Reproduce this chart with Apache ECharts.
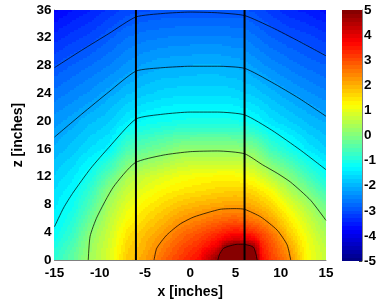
<!DOCTYPE html>
<html><head><meta charset="utf-8">
<style>html,body{margin:0;padding:0;background:#fff}#c{width:387px;height:301px}</style>
<script src="https://cdn.jsdelivr.net/npm/echarts@6/dist/echarts.min.js"></script>
</head><body><div id="c"></div>
<script>
var xSamples=[-15,-13,-11,-9,-7,-5,-3,-1,1,3,4,5,6,7,8,9,11,13,15];
var zSamples=[0,1,2,3,4,6,8,10,12,16,20,24,28,32,36];
// one row per x sample, values at zSamples
var fieldByX=[
[-0.8,-0.9,-1.0,-1.15,-1.25,-1.35,-1.45,-1.55,-1.7,-2.0,-2.25,-2.6,-2.95,-3.35,-3.8],
[-0.35,-0.4,-0.5,-0.65,-0.75,-0.95,-1.15,-1.3,-1.45,-1.8,-2.1,-2.45,-2.8,-3.2,-3.6],
[0.35,0.3,0.25,0.2,0.1,-0.2,-0.5,-0.75,-1.05,-1.55,-1.9,-2.3,-2.65,-3.05,-3.45],
[0.85,0.85,0.8,0.75,0.7,0.55,0.35,0.1,-0.35,-1.35,-1.75,-2.1,-2.5,-2.85,-3.25],
[1.75,1.7,1.65,1.55,1.45,1.2,0.95,0.7,0.4,-0.55,-1.4,-1.9,-2.3,-2.65,-3.05],
[2.15,2.1,2.0,1.95,1.85,1.6,1.35,1.05,0.75,-0.3,-1.2,-1.75,-2.15,-2.55,-3.0],
[2.75,2.6,2.5,2.35,2.2,1.9,1.6,1.3,0.95,-0.1,-1.1,-1.65,-2.05,-2.5,-2.95],
[3.25,3.1,3.0,2.8,2.65,2.25,1.85,1.45,1.15,0.15,-1.05,-1.6,-2.05,-2.45,-2.95],
[3.7,3.55,3.35,3.15,2.95,2.45,2.0,1.55,1.25,0.15,-1.0,-1.6,-2.0,-2.45,-2.95],
[4.9,4.5,3.95,3.6,3.3,2.65,2.1,1.65,1.3,0.15,-1.0,-1.6,-2.0,-2.45,-2.95],
[5.5,5.4,4.95,3.95,3.5,2.75,2.15,1.7,1.3,0.15,-1.0,-1.6,-2.05,-2.45,-2.95],
[5.6,5.5,5.2,4.2,3.65,2.8,2.2,1.7,1.3,0.15,-1.05,-1.65,-2.05,-2.5,-2.95],
[5.6,5.45,5.15,4.1,3.55,2.7,2.15,1.7,1.2,0.1,-1.1,-1.7,-2.1,-2.5,-2.95],
[5.5,5.15,4.85,3.9,3.35,2.55,2.05,1.6,1.1,0.0,-1.2,-1.75,-2.2,-2.6,-3.0],
[3.7,3.6,3.45,3.25,3.0,2.35,1.85,1.4,0.85,-0.3,-1.35,-1.85,-2.3,-2.7,-3.1],
[3.2,3.1,3.0,2.85,2.65,2.1,1.65,1.2,0.55,-0.65,-1.5,-1.95,-2.4,-2.8,-3.2],
[2.46,2.3,2.15,1.95,1.75,1.4,1.0,0.5,0.05,-1.05,-1.7,-2.15,-2.55,-2.95,-3.4],
[1.2,1.2,1.15,1.1,1.0,0.75,0.4,-0.05,-0.55,-1.45,-1.9,-2.3,-2.7,-3.05,-3.5],
[0.7,0.65,0.6,0.5,0.4,0.15,-0.2,-0.65,-1.1,-1.7,-2.05,-2.45,-2.8,-3.2,-3.65]
];
var contour1=[[-15,27.7],[-12,30.2],[-9,32.6],[-6,35],[-3,35.5],[0,35.7],[3,35.6],[6,35.2],[9,33.5],[12,31.5],[15,29.4]];
var contour2=[[-15,17.7],[-12,21],[-9,24.2],[-6,27.2],[-3,27.7],[0,27.9],[3,27.9],[6,27.6],[9,25.6],[12,23.3],[15,20.7]];
var contour3=[[-15,4.8],[-14,7.5],[-13,9.6],[-11,13.2],[-9,16.2],[-6,20.3],[-3,21],[0,21.3],[3,21.3],[6,20.9],[9,18.7],[12.2,15.8],[15,13]];
var contour4=[[-11.27,0],[-11.07,3.4],[-10.3,6.2],[-8.5,10.5],[-6.1,14],[-3,15.1],[0,15.6],[3,15.7],[6,15.3],[8,13.7],[9.6,12.5],[11.1,11.2],[13.3,8.6],[15,5.7]];
var contour5=[[-4,0],[-3.7,1.7],[-2.6,3.6],[-1.1,5.2],[0.4,6.2],[3.3,7.3],[5.1,7.4],[6,7.3],[7.8,6.2],[9.6,4.3],[10.7,2.2],[11.1,0]];
var contour6=[[3.06,0],[3.2,0.7],[3.7,1.7],[5.2,2.26],[5.9,2.26],[7,1.8],[7.4,0]];
var contours=[contour1,contour2,contour3,contour4,contour5,contour6];
var walls=[[[-6,0],[-6,36]],[[6,0],[6,36]]];

function jet(v){
  var t=Math.max(0,Math.min(1,(v+5)/10));
  t=(Math.min(63,Math.floor(t*64))+0.5)/64;
  function c(a){return Math.round(255*Math.max(0,Math.min(1,a)));}
  return 'rgb('+c(1.5-Math.abs(4*t-3))+','+c(1.5-Math.abs(4*t-2))+','+c(1.5-Math.abs(4*t-1))+')';
}
var cells=[];
for(var i=0;i<xSamples.length-1;i++)for(var j=0;j<zSamples.length-1;j++)cells.push([i,j]);
var levels=[];
for(var k=0;k<64;k++)levels.push([-5+k*10/64,-5+(k+1)*10/64]);

var series=[{
  type:'custom',xAxisIndex:0,yAxisIndex:0,silent:true,animation:false,progressive:0,z:1,clip:true,
  data:cells,
  renderItem:function(p,api){
    var i=api.value(0),j=api.value(1);
    var a=api.coord([xSamples[i],zSamples[j]]),b=api.coord([xSamples[i+1],zSamples[j+1]]);
    var w=b[0]-a[0],h=a[1]-b[1],nx=Math.ceil(w/2),ny=Math.ceil(h/2),kids=[];
    var f00=fieldByX[i][j],f10=fieldByX[i+1][j],f01=fieldByX[i][j+1],f11=fieldByX[i+1][j+1];
    for(var m=0;m<nx;m++)for(var n=0;n<ny;n++){
      var u=(m+0.5)/nx,v=(n+0.5)/ny;
      var val=f00*(1-u)*(1-v)+f10*u*(1-v)+f01*(1-u)*v+f11*u*v;
      var x0=Math.floor(a[0]+w*m/nx),x1=Math.ceil(a[0]+w*(m+1)/nx);
      var y1=Math.ceil(a[1]-h*n/ny),y0=Math.floor(a[1]-h*(n+1)/ny);
      kids.push({type:'rect',shape:{x:x0,y:y0,width:x1-x0,height:y1-y0},style:{fill:jet(val)}});
    }
    return {type:'group',children:kids};
  }
},{
  type:'custom',xAxisIndex:1,yAxisIndex:1,silent:true,animation:false,progressive:0,z:1,
  data:levels,
  renderItem:function(p,api){
    var a=api.coord([0,api.value(0)]),b=api.coord([1,api.value(1)]);
    return {type:'rect',shape:{x:a[0],y:Math.floor(b[1]),width:b[0]-a[0],height:Math.ceil(a[1])-Math.floor(b[1])},style:{fill:jet((api.value(0)+api.value(1))/2)}};
  }
}];
contours.forEach(function(c){
  series.push({type:'line',xAxisIndex:0,yAxisIndex:0,data:c,symbol:'none',smooth:0.2,silent:true,animation:false,z:3,
    lineStyle:{color:'#000',width:0.9,opacity:0.8}});
});
walls.forEach(function(c){
  series.push({type:'line',xAxisIndex:0,yAxisIndex:0,data:c,symbol:'none',silent:true,animation:false,z:4,
    lineStyle:{color:'#000',width:2}});
});
var tickFont={color:'#000',fontFamily:'Liberation Sans',fontWeight:'bold',fontSize:13.5};
var nameFont={color:'#000',fontFamily:'Liberation Sans',fontWeight:'bold',fontSize:14};
var frame={lineStyle:{color:'#808080',width:1}};
var option={
  backgroundColor:'#fff',
  grid:[{left:54.5,top:10,width:271.5,height:250,show:false,outerBoundsMode:'none'},
        {left:342,top:10,width:20,height:251,show:false,outerBoundsMode:'none'}],
  xAxis:[{type:'value',gridIndex:0,min:-15,max:15,interval:5,
    axisLine:Object.assign({show:true,onZero:false},frame),axisTick:{show:false},splitLine:{show:false},
    axisLabel:Object.assign({margin:6},tickFont),
    name:'x [inches]',nameLocation:'middle',nameGap:22,nameTextStyle:nameFont},
   {type:'value',gridIndex:1,min:0,max:1,show:false}],
  yAxis:[{type:'value',gridIndex:0,min:0,max:36,interval:4,
    axisLine:Object.assign({show:true,onZero:false},frame),axisTick:{show:false},splitLine:{show:false},
    axisLabel:Object.assign({margin:3},tickFont),
    name:'z [inches]',nameLocation:'middle',nameGap:25,nameTextStyle:nameFont},
   {type:'value',gridIndex:1,min:-5,max:5,interval:1,position:'right',
    axisLine:{show:true,onZero:false,lineStyle:{color:'#808080',width:1}},
    axisTick:{show:true,inside:true,length:3,lineStyle:{color:'#404040',width:1}},splitLine:{show:false},
    axisLabel:Object.assign({margin:2},tickFont)}],
  series:series
};
echarts.init(document.getElementById('c'),null,{renderer:'canvas'}).setOption(option);
</script></body></html>
